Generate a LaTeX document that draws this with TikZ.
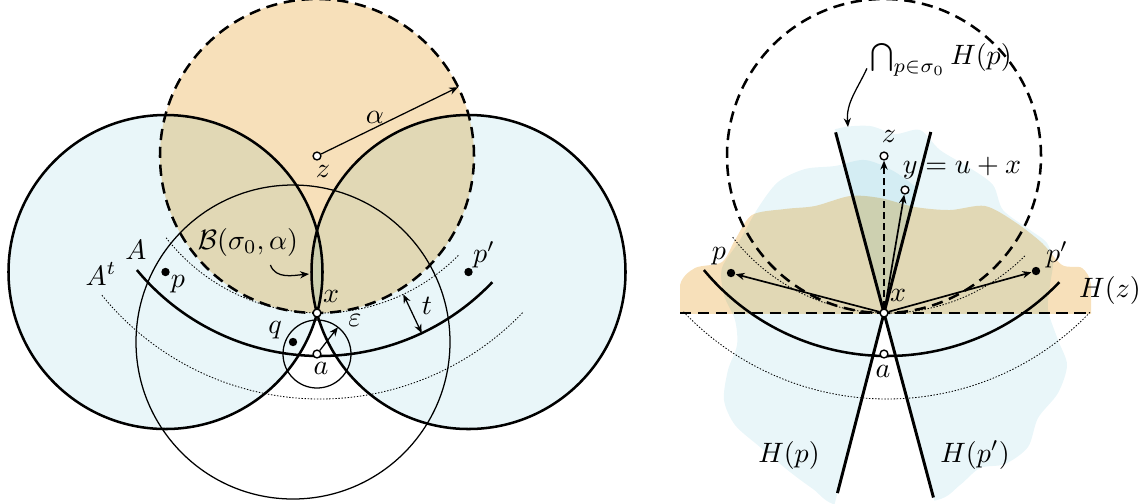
\documentclass[tikz,border=0pt]{standalone}
\usepackage{amsmath,amssymb}
\usetikzlibrary{arrows.meta,calc}
\definecolor{lblue}{RGB}{233,246,249}
\definecolor{lorange}{RGB}{247,224,186}
\begin{document}
\begin{tikzpicture}[x=0.357pt,y=0.357pt,
  opt/.style={circle,draw,fill=white,inner sep=0pt,minimum size=2.8pt,line width=0.5pt},
  dot/.style={circle,fill=black,inner sep=0pt,minimum size=3pt},
  thk/.style={line width=0.9pt},
  thn/.style={line width=0.45pt},
  conel/.style={line width=1.05pt},
  dashline/.style={line width=0.9pt,dash pattern=on 4pt off 2.4pt},
  dotline/.style={line width=0.3pt,dash pattern=on 0.5pt off 0.6pt},
  arr/.style={-{Stealth[length=3.2pt,width=2.6pt]}},
  dbl/.style={{Stealth[length=3.2pt,width=2.6pt]}-{Stealth[length=3.2pt,width=2.6pt]}},
  lab/.style={inner sep=1pt},
]
\useasboundingbox (0,-503) rectangle (1145,0);

% ================= LEFT FIGURE =================
\coordinate (cz) at (317,-156);
\coordinate (cx) at (317,-313);
\coordinate (ca) at (317,-354);
\coordinate (cp) at (165.5,-272);
\coordinate (cpp) at (468.5,-272);
\coordinate (cq) at (293,-342);
\coordinate (cA) at (320,-118);

\begin{scope}[blend mode=multiply]
  \fill[lorange] (cz) circle[radius=157];
  \fill[lblue] (cp) circle[radius=157];
  \fill[lblue] (cpp) circle[radius=157];
\end{scope}

\draw[thk] (cp) circle[radius=157];
\draw[thk] (cpp) circle[radius=157];
\draw[thn] (cq) circle[radius=157];
\draw[thn] (ca) circle[radius=34];
\draw[dashline] (cz) circle[radius=157];

\draw[thk] ($(cA)+(-140.3:238)$) arc[start angle=-140.3,end angle=-43.6,radius=238];
\draw[dotline] ($(cA)+(-142.1:195)$) arc[start angle=-142.1,end angle=-44.8,radius=195];
\draw[dotline] ($(cA)+(-140.9:281)$) arc[start angle=-140.9,end angle=-43.7,radius=281];

\coordinate (alend) at ($(cz)+(26:157)$);
\coordinate (epsend) at ($(ca)+(52:34)$);
\coordinate (t1) at ($(cA)+(-64.7:195)$);
\coordinate (t2) at ($(cA)+(-64.7:238)$);
\coordinate (lens) at (309,-274);

\node[opt] (z) at (cz) {};
\node[opt] (x) at (cx) {};
\node[opt] (a) at (ca) {};
\node[dot] (p) at (cp) {};
\node[dot] (pp) at (cpp) {};
\node[dot] (q) at (cq) {};

\draw[thn,arr] (z) -- (alend);
\draw[thn,arr] (a) -- (epsend);
\draw[thn,dbl] (t1) -- (t2);

\node[lab] (lz) at (323,-171) {$z$};
\node[lab] (lal) at (375,-117) {$\alpha$};
\node[lab] (B) at (248,-242) {$\mathcal{B}(\sigma_0,\alpha)$};
\draw[thn,arr] ([xshift=8pt,yshift=-2pt]B.south) to[out=-70,in=185] (lens);
\node[lab] (lA) at (136,-250) {$A$};
\node[lab] (lAt) at (101,-274) {$A^t$};
\node[lab] (lp) at (178,-284) {$p$};
\node[lab] (lpp) at (484,-255) {$p'$};
\node[lab] (lq) at (275,-330) {$q$};
\node[lab] (lx) at (331,-296) {$x$};
\node[lab] (leps) at (355,-320) {$\varepsilon$};
\node[lab] (la) at (321,-368) {$a$};
\node[lab] (lt) at (427,-306) {$t$};

% ================= RIGHT FIGURE =================
\coordinate (Cz) at (884,-156);
\coordinate (Cx) at (884,-313);
\coordinate (Ca) at (884,-354);
\coordinate (Cy) at (905,-190);
\coordinate (Cp) at (731,-273);
\coordinate (Cpp) at (1036,-271);
\coordinate (CA) at (887,-118);

\begin{scope}[blend mode=multiply]
  \begin{scope}
    \clip (680,-313) rectangle (1091,0);
    \fill[lorange] plot[smooth cycle] coordinates {(680,-330) (680,-285) (695,-268) (722,-262) (735,-240) (752,-215) (785,-209) (815,-206) (850,-196) (880,-198) (915,-207) (950,-210) (985,-206) (1015,-222) (1042,-243) (1062,-265) (1082,-268) (1091,-285) (1091,-330)};
  \end{scope}
  \begin{scope}
    \clip plot[smooth cycle] coordinates {(837,-505) (813,-489) (790,-472) (760,-447) (735,-425) (724,-400) (728,-370) (737,-345) (735,-320) (724,-295) (722,-268) (740,-240) (758,-208) (778,-182) (805,-169) (835,-166) (865,-160) (895,-172) (925,-195) (960,-230) (990,-300) (980,-420) (900,-505)};
    \fill[lblue] ($(Cx)+(75.5:400)$) -- ($(Cx)+(75.5:400)+(-500,0)$) -- ($(Cx)+(255.5:400)+(-500,0)$) -- ($(Cx)+(255.5:400)$) -- cycle;
  \end{scope}
  \begin{scope}
    \clip plot[smooth cycle] coordinates {(800,-200) (820,-140) (840,-128) (870,-126) (895,-134) (920,-130) (940,-150) (970,-168) (993,-185) (1003,-210) (1030,-230) (1047,-243) (1053,-262) (1050,-285) (1048,-310) (1058,-340) (1067,-365) (1058,-393) (1038,-418) (1028,-447) (1005,-464) (980,-468) (960,-485) (937,-500) (870,-505) (800,-400)};
    \fill[lblue] ($(Cx)+(105:400)$) -- ($(Cx)+(105:400)+(500,0)$) -- ($(Cx)+(-75:400)+(500,0)$) -- ($(Cx)+(-75:400)$) -- cycle;
  \end{scope}
\end{scope}

\draw[dotline] ($(CA)+(-142.3:195)$) arc[start angle=-142.3,end angle=-45,radius=195];
\draw[dotline] ($(CA)+(-136.4:281)$) arc[start angle=-136.4,end angle=-43.7,radius=281];
\draw[thk] ($(CA)+(-140.3:238)$) arc[start angle=-140.3,end angle=-43.6,radius=238];
\draw[dashline] (Cz) circle[radius=157];
\draw[dashline] (680,-313) -- (1090,-313);
\draw[conel] ($(Cx)+(105:187)$) -- ($(Cx)+(-75:191)$);
\draw[conel] ($(Cx)+(75.5:187)$) -- ($(Cx)+(255.5:186)$);

\node[opt] (x2) at (Cx) {};
\node[opt] (z2) at (Cz) {};
\node[opt] (y2) at (Cy) {};
\node[opt] (a2) at (Ca) {};
\node[dot] (p2) at (Cp) {};
\node[dot] (pp2) at (Cpp) {};

\draw[line width=0.6pt,arr] (x2) -- (p2);
\draw[line width=0.6pt,arr] (x2) -- (pp2);
\draw[line width=0.6pt,arr] (x2) -- (y2);
\draw[line width=0.6pt,arr,dash pattern=on 2.5pt off 1.5pt] (x2) -- (z2);

\coordinate (capend) at (848,-127);
\node[lab] (cap) at (941,-60) {$\bigcap_{p\in\sigma_0} H(p)$};
\draw[thn,arr] ([yshift=-3pt]cap.west) to[out=245,in=95] (capend);
\node[lab] (lz2) at (889,-136) {$z$};
\node[lab] (ly2) at (962,-168) {$y=u+x$};
\node[lab] (lx2) at (898,-295) {$x$};
\node[lab] (la2) at (883,-371) {$a$};
\node[lab] (lp2) at (719,-256) {$p$};
\node[lab] (lpp2) at (1057,-255) {$p'$};
\node[lab] (lHz) at (1110,-290) {$H(z)$};
\node[lab] (lHp) at (789,-455) {$H(p)$};
\node[lab] (lHpp) at (975,-455) {$H(p')$};
\end{tikzpicture}
\end{document}
